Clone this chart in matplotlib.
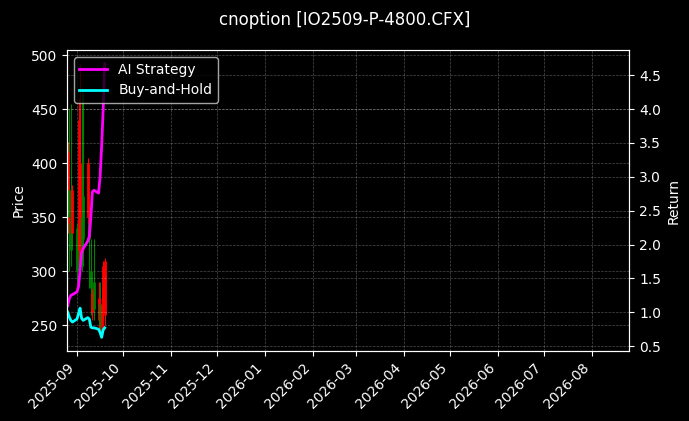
import matplotlib
matplotlib.use("Agg")
import matplotlib.pyplot as plt
import matplotlib.dates as mdates
import pandas as pd
import numpy as np

plt.style.use("dark_background")

dates = pd.to_datetime([
    "2025-08-26", "2025-08-27", "2025-08-28", "2025-08-29",
    "2025-09-01", "2025-09-02", "2025-09-03", "2025-09-04", "2025-09-05",
    "2025-09-08", "2025-09-09", "2025-09-10", "2025-09-11", "2025-09-12",
    "2025-09-15", "2025-09-16", "2025-09-17", "2025-09-18", "2025-09-19",
])
open_ = [410, 350, 320, 375, 300, 440, 400, 310, 330, 400, 330, 285, 280, 265, 275, 250, 270, 305, 310]
high = [420, 450, 455, 380, 345, 460, 492, 470, 465, 405, 360, 330, 285, 330, 290, 290, 285, 310, 312]
low = [335, 300, 305, 325, 290, 300, 305, 300, 305, 330, 285, 260, 255, 255, 248, 245, 239, 255, 250]
close = [345, 375, 350, 335, 340, 320, 315, 350, 370, 350, 345, 300, 262, 290, 255, 270, 245, 265, 260]

ai_strategy = [1.10, 1.20, 1.25, 1.26, 1.30, 1.38, 1.62, 1.88, 1.94, 2.05, 2.12, 2.40, 2.78, 2.80,
               2.76, 3.00, 3.45, 4.00, 4.67]
buy_hold = [1.00, 0.93, 0.88, 0.855, 0.90, 0.98, 1.06, 0.91, 0.88, 0.92, 0.90, 0.78, 0.77, 0.77,
            0.75, 0.70, 0.63, 0.74, 0.77]

title = "cnoption [IO2509-P-4800.CFX]"

fig = plt.figure(figsize=(6.89, 4.21), dpi=100)
ax = fig.add_axes([0.0972, 0.1663, 0.9134 - 0.0972, 0.8812 - 0.1663])

colors = ["#ff0000" if c < o else "#008000" for o, c in zip(open_, close)]
ax.vlines(dates, low, high, colors=colors, linewidth=0.8)
ax.vlines(dates, open_, close, colors=colors, linewidth=2)
ax.set_ylabel("Price")
ax.grid(True, linestyle="--", linewidth=0.5, alpha=0.3)

ax2 = ax.twinx()
ax2.plot(dates, ai_strategy, color="#ff00ff", linewidth=2, label="AI Strategy")
ax2.plot(dates, buy_hold, color="#00ffff", linewidth=2, label="Buy-and-Hold")
ax2.set_ylabel("Return")
ax2.grid(True, linestyle="--", linewidth=0.5, alpha=0.3)
ax2.legend(loc="upper left")

ax.set_xlim(pd.Timestamp("2025-08-25 12:00"), pd.Timestamp("2026-08-25 12:00"))
ax.xaxis.set_major_locator(mdates.MonthLocator())
ax.xaxis.set_major_formatter(mdates.DateFormatter("%Y-%m"))
for lbl in ax.get_xticklabels():
    lbl.set_rotation(45)
    lbl.set_ha("right")

fig.suptitle(title, fontsize=12, y=0.975)
fig.savefig("out.png", dpi=100, facecolor="black")
